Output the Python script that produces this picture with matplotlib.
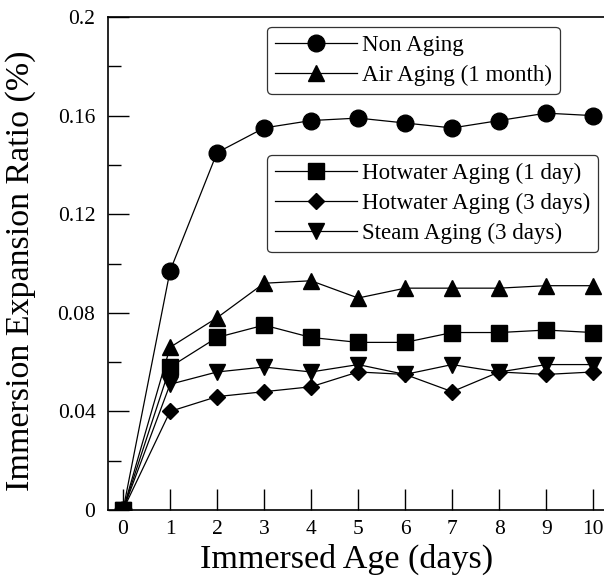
import numpy as np
import matplotlib.pyplot as plt

plt.rcParams['font.family'] = ['Liberation Serif', 'DejaVu Serif']

days = [0, 1, 2, 3, 4, 5, 6, 7, 8, 9, 10]

non_aging = [0, 0.097, 0.145, 0.155, 0.158, 0.159, 0.157, 0.155, 0.158, 0.161, 0.160]
air_aging = [0, 0.066, 0.078, 0.092, 0.093, 0.086, 0.090, 0.090, 0.090, 0.091, 0.091]
hotwater_1d = [0, 0.058, 0.070, 0.075, 0.070, 0.068, 0.068, 0.072, 0.072, 0.073, 0.072]
hotwater_3d = [0, 0.040, 0.046, 0.048, 0.050, 0.056, 0.055, 0.048, 0.056, 0.055, 0.056]
steam_3d = [0, 0.051, 0.056, 0.058, 0.056, 0.059, 0.055, 0.059, 0.056, 0.059, 0.059]

fig = plt.figure(figsize=(6.04, 5.81), dpi=100)
ax = fig.add_axes([0.1788, 0.1222, 0.8212, 0.8485])

kw = dict(color='black', lw=0.9, markerfacecolor='black', markeredgecolor='black')
l1, = ax.plot(days, non_aging, marker='o', ms=12, label='Non Aging', **kw)
l2, = ax.plot(days, air_aging, marker='^', ms=12, label='Air Aging (1 month)', **kw)
l4, = ax.plot(days, hotwater_3d, marker='D', ms=8.5, label='Hotwater Aging (3 days)', **kw)
l5, = ax.plot(days, steam_3d, marker='v', ms=12, label='Steam Aging (3 days)', **kw)
l3, = ax.plot(days, hotwater_1d, marker='s', ms=11, label='Hotwater Aging (1 day)', **kw)

ax.set_xlim(-0.32, 10.23)
ax.set_ylim(0, 0.2)
ax.set_xticks(range(0, 11))
ax.set_yticks([0, 0.04, 0.08, 0.12, 0.16, 0.2])
ax.set_yticklabels(['0', '0.04', '0.08', '0.12', '0.16', '0.2'])
ax.set_yticks(np.arange(0.02, 0.2, 0.04), minor=True)
ax.tick_params(axis='both', direction='in', length=15, width=1, labelsize=15.5)
ax.tick_params(axis='x', pad=7)
ax.tick_params(axis='y', pad=9)
ax.tick_params(axis='y', which='minor', direction='in', length=9, width=1)
ax.tick_params(top=False, right=False)
ax.spines['right'].set_visible(False)
for s in ['left', 'bottom', 'top']:
    ax.spines[s].set_linewidth(1.2)

ax.set_xlabel('Immersed Age (days)', fontsize=24.5)
ax.xaxis.set_label_coords(0.48, -0.068)
ax.set_ylabel('Immersion Expansion Ratio (%)', fontsize=24.5)
ax.yaxis.set_label_coords(-0.145, 0.485)

leg_kw = dict(loc='upper left', fontsize=16.6, frameon=True, fancybox=True,
              handlelength=3.55, handletextpad=0.22, borderaxespad=0,
              labelspacing=0.38, borderpad=0.35)
leg1 = ax.legend(handles=[l1, l2], bbox_to_anchor=(0.3205, 0.980), **leg_kw)
leg1.get_frame().set_edgecolor('black')
leg1.get_frame().set_linewidth(0.9)
ax.add_artist(leg1)
leg2 = ax.legend(handles=[l3, l4, l5], bbox_to_anchor=(0.3205, 0.720), **leg_kw)
leg2.get_frame().set_edgecolor('black')
leg2.get_frame().set_linewidth(0.9)

fig.savefig('out.png', dpi=100)
